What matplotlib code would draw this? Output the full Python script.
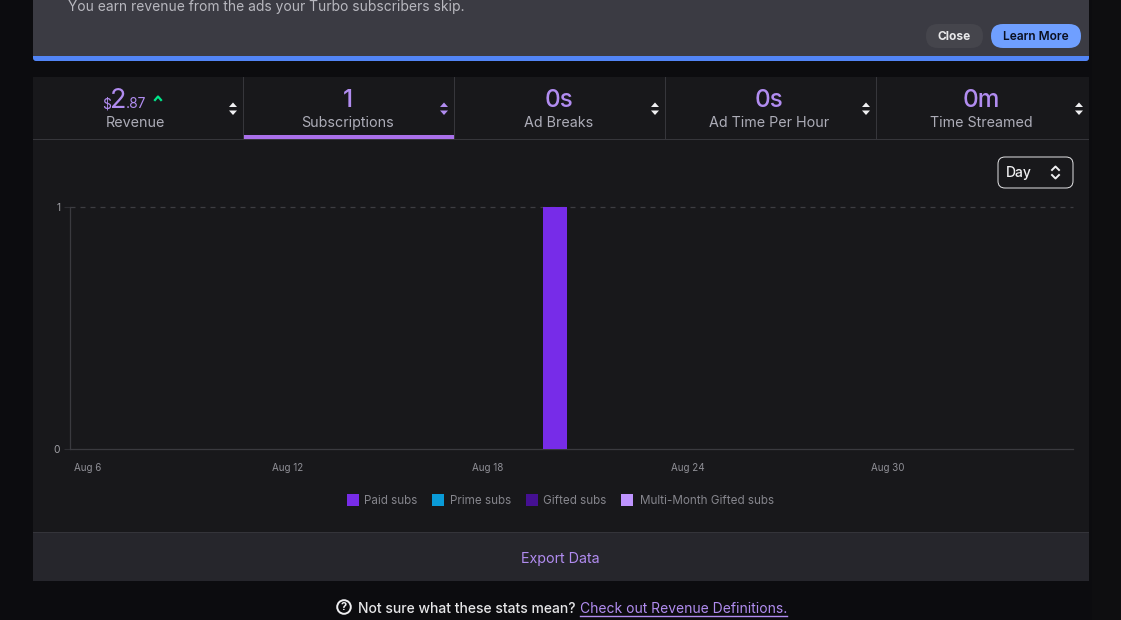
import matplotlib
matplotlib.use("Agg")
import matplotlib.pyplot as plt
from matplotlib.patches import Rectangle, FancyBboxPatch, Circle, Polygon

plt.rcParams['font.family'] = ['Inter', 'DejaVu Sans']

# ---- data ----
days = list(range(5, 35))
paid_subs = [0]*15 + [1] + [0]*14
prime_subs = [0]*30
gifted_subs = [0]*30
multi_gifted_subs = [0]*30
tick_days = [6, 12, 18, 24, 30]
tick_labels = ["Aug 6", "Aug 12", "Aug 18", "Aug 24", "Aug 30"]
series_names = ["Paid subs", "Prime subs", "Gifted subs", "Multi-Month Gifted subs"]
series_colors = ["#772ce8", "#0a9bd8", "#451093", "#bf94ff"]
tab_values = ["1", "0s", "0s", "0m"]
tab_labels = ["Revenue", "Subscriptions", "Ad Breaks", "Ad Time Per Hour", "Time Streamed"]

W, H = 1121, 620
fig = plt.figure(figsize=(W/100, H/100), dpi=100, facecolor="#0c0c0f")
ui = fig.add_axes([0, 0, 1, 1], zorder=0)
ui.set_xlim(0, W); ui.set_ylim(H, 0); ui.axis("off")

PURPLE = "#b18cf0"
GREY = "#adadb8"

def rect(x0, y0, x1, y1, c, z=1):
    ui.add_patch(Rectangle((x0, y0), x1-x0, y1-y0, fc=c, ec="none", zorder=z))

def pill(x0, y0, x1, y1, r, fc, ec="none", lw=0, z=3):
    ui.add_patch(FancyBboxPatch((x0+r, y0+r), x1-x0-2*r, y1-y0-2*r,
                 boxstyle=f"round,pad={r},rounding_size={r}", fc=fc, ec=ec, lw=lw, zorder=z))

def updown(x, y, c):
    ui.add_patch(Polygon([(x-4, y-1.5), (x+4, y-1.5), (x, y-6)], fc=c, ec="none", zorder=4))
    ui.add_patch(Polygon([(x-4, y+2), (x+4, y+2), (x, y+6.5)], fc=c, ec="none", zorder=4))

# page + banner
rect(1092, 0, W, H, "#0e0e10", 0)
rect(33, 0, 1089, 58, "#3a3a42")
pill(33, 50, 1089, 61, 3, "#5285f6", z=1)
rect(33, 0, 1089, 56, "#3b3b43", 2)
ui.text(68.5, 11, "You earn revenue from the ads your Turbo subscribers skip.",
        color="#b8b8bf", fontsize=9.95, va="baseline", ha="left", zorder=5)
pill(926, 24, 983, 48, 12, "#45454c")
ui.text(954.5, 40, "Close", color="#e8e8ea", fontsize=8.6, fontweight="bold", ha="center", va="baseline", zorder=5)
pill(991, 24, 1081, 48, 12, "#6f9fff")
ui.text(1036, 40, "Learn More", color="#0b1020", fontsize=8.6, fontweight="semibold", ha="center", va="baseline", zorder=5)

# panel
rect(33, 77, 1089, 581, "#18181b")
rect(33, 532, 1089, 581, "#26262c", 2)
rect(33, 532, 1089, 533, "#34343a", 3)
rect(33, 139, 1089, 140, "#36363b", 3)
for xd in (243, 454, 665, 876):
    rect(xd, 77, xd+1, 139, "#36363b", 3)
rect(244, 135, 454, 139, "#a970ea", 4)

# tabs
centers = [135.5, 347.5, 558.5, 769, 981]
ui.text(102.5, 108, "$", color=PURPLE, fontsize=10, ha="left", va="baseline", zorder=5)
ui.text(109.5, 108, "2", color=PURPLE, fontsize=19.5, ha="left", va="baseline", zorder=5)
ui.text(125.5, 108, ".87", color=PURPLE, fontsize=10, ha="left", va="baseline", zorder=5)
ui.plot([155, 158, 161], [100, 96.5, 100], color="#00e68a", lw=1.6, zorder=5)
for cx, v in zip(centers[1:], tab_values):
    ui.text(cx, 107, v, color=PURPLE, fontsize=17.5, fontweight="medium", ha="center", va="baseline", zorder=5)
for cx, lab in zip(centers, tab_labels):
    ui.text(cx, 127, lab, color=GREY, fontsize=10.3, ha="center", va="baseline", zorder=5)
for x, c in zip((233, 444, 655, 866, 1079), ("#f0f0f2", PURPLE, "#f0f0f2", "#f0f0f2", "#f0f0f2")):
    updown(x, 108.5, c)

# Day selector
pill(998, 157, 1073, 188, 7, "#18181b", ec="#e6e6e8", lw=0.7)
ui.text(1005.5, 177.5, "Day", color="#efeff1", fontsize=10, fontweight="medium", ha="left", va="baseline", zorder=5)
ui.plot([1052, 1055.5, 1059], [170, 166.5, 170], color="#efeff1", lw=1.4, zorder=5)
ui.plot([1052, 1055.5, 1059], [175, 178.5, 175], color="#efeff1", lw=1.4, zorder=5)

# chart axes
ax = fig.add_axes([70/W, 1-449/H, (1073-70)/W, (449-207)/H], zorder=2)
ax.patch.set_alpha(0)
bottom = [0]*30
for vals, col in zip((paid_subs, prime_subs, gifted_subs, multi_gifted_subs), series_colors):
    ax.bar(days, vals, bottom=bottom, width=0.72, color=col, linewidth=0, zorder=3)
    bottom = [b+v for b, v in zip(bottom, vals)]
ax.set_xlim(5.46, 35.55)
ax.set_ylim(0, 1)
for s in ("top", "right"):
    ax.spines[s].set_visible(False)
for s in ("left", "bottom"):
    ax.spines[s].set_color("#3a3a3f"); ax.spines[s].set_linewidth(0.9)
ax.set_yticks([0, 1])
ax.tick_params(axis="y", length=4, width=0.8, color="#2e2e33", labelcolor="#a0a0a6", labelsize=7.4, pad=3)
ax.set_xticks(tick_days, tick_labels)
ax.tick_params(axis="x", length=0, labelcolor="#8f8f96", labelsize=7.1, pad=10)
ax.axhline(1, color="#3d3d42", lw=0.9, dashes=(4, 4), zorder=1, clip_on=False)

# legend
legx = [347, 432, 526, 621]
txtx = [364.5, 449.5, 543, 640]
for x, tx, n, c in zip(legx, txtx, series_names, series_colors):
    rect(x, 494, x+12, 506, c, 5)
    ui.text(tx, 504, n, color="#85858c", fontsize=8.4, ha="left", va="baseline", zorder=5)

# footer
ui.text(560.5, 563, "Export Data", color=PURPLE, fontsize=10.3, ha="center", va="baseline", zorder=5)
ui.add_patch(Circle((344, 607), 6.8, fc="none", ec="#efeff1", lw=1.4, zorder=5))
ui.text(344, 607.2, "?", color="#efeff1", fontsize=8, fontweight="bold", ha="center", va="center", zorder=6)
ui.text(358, 613, "Not sure what these stats mean?", color="#e6e6e8", fontsize=10.0, fontweight="medium", ha="left", va="baseline", zorder=5)
ui.text(580, 613, "Check out Revenue Definitions.", color=PURPLE, fontsize=10.0, ha="left", va="baseline", zorder=5)
ui.plot([580, 787], [615.5, 615.5], color=PURPLE, lw=1, zorder=5)

fig.savefig("out.png", dpi=100, facecolor=fig.get_facecolor())
